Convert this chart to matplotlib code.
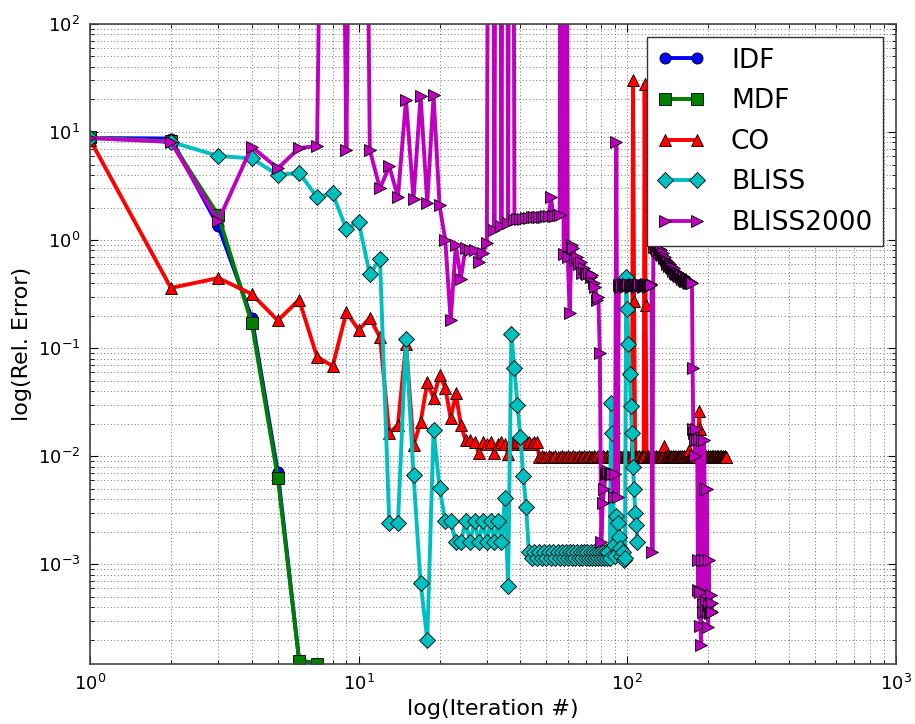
import numpy as np
import matplotlib
matplotlib.use("Agg")
import matplotlib.pyplot as plt

# relative error per iteration
idf_err = [8.8, 8.7, 1.35, 0.19, 0.0071, 1.3e-4, 1.19e-4]
mdf_err = [8.9, 8.2, 1.7, 0.17, 0.0063, 1.28e-4, 1.2e-4]

co_err = [
    8.5, 0.36, 0.445, 0.316, 0.18, 0.28, 0.083, 0.068, 0.215, 0.147, 0.19, 0.126,
    0.0163, 0.0194, 0.11, 0.0126, 0.0206, 0.048, 0.0346, 0.056, 0.043, 0.0224, 0.038, 0.0194,
    0.014, 0.014, 0.0135, 0.0107, 0.0135, 0.013, 0.0135, 0.0107, 0.013, 0.0135, 0.013, 0.0105,
    0.0135, 0.013, 0.0135, 0.0135, 0.013, 0.0135, 0.0135, 0.013, 0.0135, 0.0135,
    # 47 - 104
    0.0099, 0.0100, 0.0099, 0.0099, 0.0100, 0.0099, 0.0099, 0.0100, 0.0099, 0.0099,
    0.0100, 0.0099, 0.0099, 0.0100, 0.0099, 0.0099, 0.0100, 0.0099, 0.0099, 0.0100,
    0.0099, 0.0099, 0.0100, 0.0099, 0.0099, 0.0100, 0.0099, 0.0099, 0.0100, 0.0099,
    0.0099, 0.0100, 0.0099, 0.0099, 0.0100, 0.0099, 0.0099, 0.0100, 0.0099, 0.0099,
    0.0100, 0.0099, 0.0099, 0.0100, 0.0099, 0.0099, 0.0100, 0.0099, 0.0099, 0.0100,
    0.0099, 0.0099, 0.0100, 0.0099, 0.0099, 0.0100, 0.0099, 0.0099,
    # 105 - 118
    30.0, 0.27,
    0.0099, 0.0100, 0.0099, 0.0099, 0.0100, 0.0099, 0.0099, 0.0100, 0.0099,
    28.0, 0.25,
    # 118 - 136
    0.0099, 0.0100, 0.0099, 0.0099, 0.0100, 0.0099, 0.0099, 0.0100, 0.0099, 0.0099,
    0.0100, 0.0099, 0.0099, 0.0100, 0.0099, 0.0099, 0.0100, 0.0099, 0.0099,
    0.0123,
    # 138 - 169
    0.0099, 0.0100, 0.0099, 0.0099, 0.0100, 0.0099, 0.0099, 0.0100, 0.0099, 0.0099,
    0.0100, 0.0099, 0.0099, 0.0100, 0.0099, 0.0099, 0.0100, 0.0099, 0.0099, 0.0100,
    0.0099, 0.0099, 0.0100, 0.0099, 0.0099, 0.0100, 0.0099, 0.0099, 0.0100, 0.0099,
    0.0099, 0.0100,
    0.0115,
    # 171 - 184
    0.0099, 0.0100, 0.0099, 0.0099, 0.0100, 0.0099, 0.0099, 0.0100, 0.0099, 0.0099,
    0.0100, 0.0099, 0.0105, 0.0110,
    0.026, 0.018,
    # 187 - 233
    0.0099, 0.0100, 0.0099, 0.0099, 0.0100, 0.0099, 0.0099, 0.0100, 0.0099, 0.0099,
    0.0100, 0.0099, 0.0099, 0.0100, 0.0099, 0.0099, 0.0100, 0.0099, 0.0099, 0.0100,
    0.0099, 0.0099, 0.0100, 0.0099, 0.0099, 0.0100, 0.0099, 0.0099, 0.0100, 0.0099,
    0.0099, 0.0100, 0.0099, 0.0099, 0.0100, 0.0099, 0.0099, 0.0100, 0.0099, 0.0099,
    0.0100, 0.0099, 0.0099, 0.0100, 0.0099, 0.0099, 0.0099,
]

bliss_err = [
    8.8, 8.1, 6.0, 5.7, 4.0, 4.2, 2.5, 2.7, 1.26, 1.47, 0.48, 0.67,
    0.0024, 0.0024, 0.12, 0.0067, 6.7e-4, 2.0e-4, 0.0174, 0.0051,
    0.0025, 0.0025, 0.0016, 0.0016, 0.0025, 0.0016, 0.0025, 0.0016, 0.0025, 0.0016,
    0.0025, 0.0016, 0.0025, 0.0016, 0.0041, 6.3e-4,
    0.135, 0.065, 0.0295, 0.015, 0.0065, 0.0034, 0.0013, 0.00114,
    # 45 - 86
    0.0013, 0.00114, 0.0013, 0.00114, 0.0013, 0.00114, 0.0013, 0.00114, 0.0013, 0.00114,
    0.0013, 0.00114, 0.0013, 0.00114, 0.0013, 0.00114, 0.0013, 0.00114, 0.0013, 0.00114,
    0.0013, 0.00114, 0.0013, 0.00114, 0.0013, 0.00114, 0.0013, 0.00114, 0.0013, 0.00114,
    0.0013, 0.00114, 0.0013, 0.00114, 0.0013, 0.00114, 0.0013, 0.00114, 0.0013, 0.00114,
    0.0013, 0.00114,
    # 87 - 109
    0.031, 0.0165, 0.0015, 0.0012, 0.0028, 0.0024, 0.0018, 0.0014, 0.0012, 0.0013,
    0.0011, 0.00115, 0.45, 0.23, 0.11, 0.058, 0.029, 0.0165, 0.008, 0.005,
    0.003, 0.0023, 0.0016,
]

HUGE = 1e12  # diverged iterations, far above the plotted range
bliss2000_err = [
    8.8, 8.1, 1.5, 7.3, 4.6, 7.1, 7.4, HUGE, 6.8, HUGE,
    6.8, 3.0, 4.8, 2.5, 19.8, 2.4, 21.5, 2.2, 22.0, 2.1,
    1.0, 0.18, 0.9, 0.44, 0.85, 0.8, 0.8, 0.63, 0.76, 0.93,
    HUGE, 1.23, HUGE, 1.35, HUGE, 1.45, HUGE, 1.52, 1.55, 1.57,
    1.58, 1.6, 1.6, 1.62, 1.62, 1.63, 1.64, 1.65, 1.65, 1.66,
    1.67, 2.5, 1.68, 1.68, 1.7, 1.7, HUGE, 0.75, HUGE, 0.7,
    0.21, 0.9, 0.85, 0.65, 0.7, 0.6, 0.62, 0.5, 0.55, 0.5,
    0.48, 0.5, 0.45, 0.47, 0.4, 0.37, 0.28, 0.3, 0.09, 0.0016,
    0.0037, 0.005, 0.0068, 0.007, 0.0072, 0.0068, 0.007, 0.0068, 0.0042, 0.0068,
    8.1, 0.0042,
    # 93 - 123
    0.38, 0.37, 0.38, 0.39, 0.38, 0.37, 0.38, 0.38, 0.39, 0.38,
    0.37, 0.38, 0.38, 0.39, 0.38, 0.38, 0.37, 0.38, 0.39, 0.38,
    0.38, 0.37, 0.38, 0.38, 0.39, 0.38, 0.37, 0.38, 0.38, 0.39, 0.38,
    0.0013,
    # 125 - 174
    1.0, 0.87, 0.93, 0.85, 0.80, 0.90, 0.78, 0.82, 0.75, 0.80,
    0.72, 0.76, 0.68, 0.70, 0.65, 0.62, 0.60, 0.63, 0.58, 0.60,
    0.56, 0.58, 0.55, 0.52, 0.55, 0.50, 0.52, 0.48, 0.50, 0.47,
    0.49, 0.46, 0.48, 0.45, 0.47, 0.44, 0.46, 0.43, 0.45, 0.42,
    0.44, 0.42, 0.43, 0.41, 0.42, 0.40, 0.41, 0.40, 0.41, 0.40,
    # 175 - 207
    0.065, 0.018, 0.0165, 0.0145, 0.01, 0.018, 0.0145, 0.014, 0.0011, 5.8e-4,
    0.0145, 5.5e-4, 2.7e-4, 1.8e-4, 0.014, 0.0011, 4.3e-4, 3.6e-4, 0.014, 0.005,
    0.0011, 4.5e-4, 3.8e-4, 0.005, 3.6e-4, 2.6e-4, 0.0011, 4.2e-4, 3.5e-4, 5.2e-4,
    3.7e-4, 4.4e-4, 3.6e-4,
]

series = [
    ("IDF", idf_err, "b", "o"),
    ("MDF", mdf_err, "g", "s"),
    ("CO", co_err, "r", "^"),
    ("BLISS", bliss_err, "c", "D"),
    ("BLISS2000", bliss2000_err, "m", ">"),
]

fig = plt.figure(figsize=(9.15, 7.24), dpi=100)
ax = fig.add_axes([0.0984, 0.0829, 0.8808, 0.884])

for name, err, col, mk in series:
    it = np.arange(1, len(err) + 1)
    ax.plot(it, err, color=col, marker=mk, lw=2.8, ms=8,
            mec="k", mew=0.6, label=name)

ax.set_xscale("log")
ax.set_yscale("log")
ax.set_xlim(1, 1000)
ax.set_ylim(1.19e-4, 100)

ax.grid(True, which="both", color="0.45", lw=0.7, dashes=(1, 2.5))
ax.tick_params(which="both", direction="in", top=True, right=True,
               labelsize=13, pad=7)
ax.tick_params(which="major", length=6)
ax.tick_params(which="minor", length=3)
for sp in ax.spines.values():
    sp.set_color("#444444")
    sp.set_linewidth(1.2)

ax.set_xlabel("log(Iteration #)", fontsize=16)
ax.set_ylabel("log(Rel. Error)", fontsize=16)

leg = ax.legend(loc="upper right", numpoints=2, fontsize=19, fancybox=False,
                framealpha=1, edgecolor="#333333", handlelength=1.8,
                handletextpad=1.0, borderaxespad=0.5, labelspacing=0.55)
leg.get_frame().set_linewidth(1.0)

fig.savefig("out.png", dpi=100)
